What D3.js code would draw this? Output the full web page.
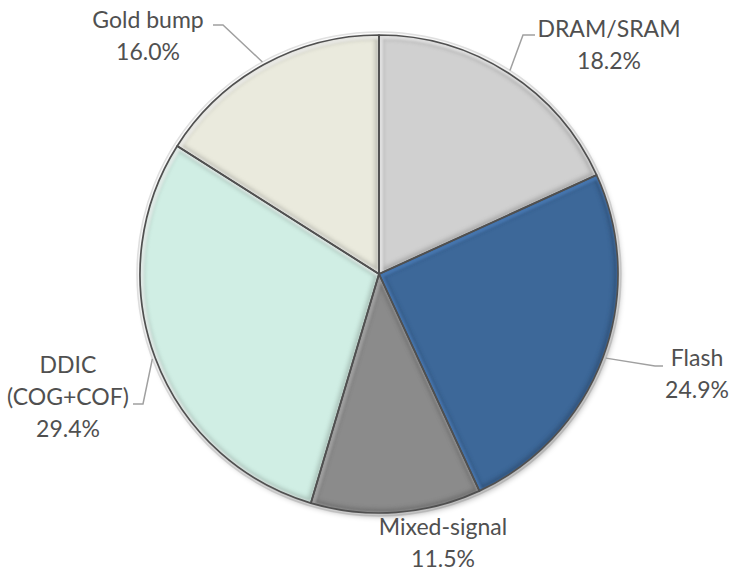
<!DOCTYPE html>
<html><head><meta charset="utf-8">
<script src="https://cdn.jsdelivr.net/npm/d3@7/dist/d3.min.js"></script>
<style>body{margin:0;background:#fff}svg{display:block}</style>
</head><body>
<svg id="c" width="738" height="573"></svg>
<script>
const categories = ["DRAM/SRAM", "Flash", "Mixed-signal", "DDIC\n(COG+COF)", "Gold bump"];
const values = [18.2, 24.9, 11.5, 29.4, 16.0];
const colors = ["#d0d0d0", "#3e6899", "#8b8b8b", "#d0eee4", "#eaeadd"];
// label layout (first-line center) and leader elbow points
const labelPos = [[609, 29], [697, 358], [443, 527], [68, 365], [148, 20]];
const leaderEnds = [[[535, 35], [523, 35]], [[663, 366], [655, 366]], null, [[133, 404], [143, 404]], [[213, 25], [223, 25]]];

const svg = d3.select("#c");
const cx = 379, cy = 274, R = 239, lineH = 32;
const defs = svg.append("defs");
const sh = defs.append("filter").attr("id", "shadow").attr("x", "-20%").attr("y", "-20%").attr("width", "140%").attr("height", "140%");
sh.append("feGaussianBlur").attr("in", "SourceAlpha").attr("stdDeviation", 3);
sh.append("feOffset").attr("dx", 2).attr("dy", 3).attr("result", "o");
sh.append("feComponentTransfer").append("feFuncA").attr("type", "linear").attr("slope", 0.35);
const mg = sh.append("feMerge"); mg.append("feMergeNode"); mg.append("feMergeNode").attr("in", "SourceGraphic");
defs.append("filter").attr("id", "blur").append("feGaussianBlur").attr("stdDeviation", 2);
defs.append("filter").attr("id", "blur1").append("feGaussianBlur").attr("stdDeviation", 0.8);

const data = categories.map((c, i) => ({ name: c, value: values[i], color: colors[i] }));
const pie = d3.pie().value(d => d.value).sort(null);
const arcs = pie(data);
const arc = d3.arc().innerRadius(0).outerRadius(R);

const g = svg.append("g").attr("transform", `translate(${cx},${cy})`);
// outer halo ring
g.append("circle").attr("r", R + 3).attr("fill", "none").attr("stroke", "#e2e2e2").attr("stroke-width", 1.5);
const pg = g.append("g").attr("filter", "url(#shadow)");
arcs.forEach((a, i) => {
  defs.append("clipPath").attr("id", "clip" + i).append("path").attr("d", arc(a)).attr("transform", `translate(${cx},${cy})`);
});
const sl = pg.selectAll("g.slice").data(arcs).join("g").attr("class", "slice");
sl.append("path").attr("d", arc).attr("fill", d => d.data.color);
// inner bevel (dark rim + light highlight) clipped to slice
const inner = g.selectAll("g.bev").data(arcs).join("g").attr("class", "bev")
  .attr("clip-path", (d, i) => `url(#clip${i})`).attr("transform", `translate(${-cx},${-cy})`)
  .append("g").attr("transform", `translate(${cx},${cy})`);
inner.append("path").attr("d", arc).attr("fill", "none")
  .attr("stroke", d => d3.color(d.data.color).darker(1.3)).attr("stroke-width", 8).attr("opacity", 0.5).attr("filter", "url(#blur)");
inner.append("path").attr("d", arc).attr("fill", "none")
  .attr("stroke", d => d3.color(d.data.color).brighter(0.8)).attr("stroke-width", 5).attr("opacity", 0.6).attr("filter", "url(#blur1)")
  .attr("transform", "translate(1.5,1.5)");
g.selectAll("path.edge").data(arcs).join("path").attr("class", "edge").attr("d", arc)
  .attr("fill", "none").attr("stroke", "#505050").attr("stroke-width", 1.7).attr("stroke-linejoin", "round");

// leaders
const edgeArc = d3.arc().innerRadius(R + 3).outerRadius(R + 3);
arcs.forEach((a, i) => {
  if (!leaderEnds[i]) return;
  const [ex, ey] = edgeArc.centroid(a);
  const pts = [...leaderEnds[i], [ex + cx, ey + cy]];
  svg.append("path").attr("d", d3.line()(pts)).attr("fill", "none").attr("stroke", "#a0a0a0").attr("stroke-width", 1.5);
});

// labels
arcs.forEach((a, i) => {
  const lines = a.data.name.split("\n").concat([a.data.value.toFixed(1) + "%"]);
  const t = svg.append("text").attr("text-anchor", "middle").attr("font-family", "Lato, 'Open Sans', sans-serif")
    .attr("font-size", 23).attr("fill", "#505050");
  lines.forEach((l, k) => {
    t.append("tspan").attr("x", labelPos[i][0]).attr("y", labelPos[i][1] + k * lineH).attr("dy", "0.35em").text(l);
  });
});
</script>
</body></html>
